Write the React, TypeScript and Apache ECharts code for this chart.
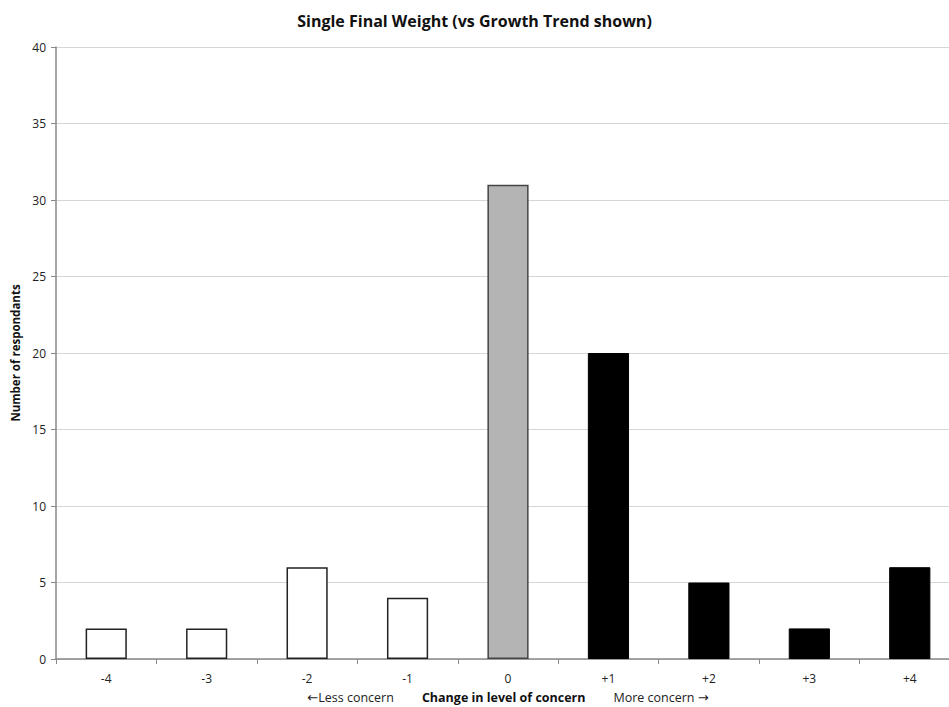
import React, { useEffect, useRef } from "react";
import * as echarts from "echarts";

const categories = ["-4", "-3", "-2", "-1", "0", "+1", "+2", "+3", "+4"];
const respondents = [2, 2, 6, 4, 31, 20, 5, 2, 6];
const yTicks = { min: 0, max: 40, interval: 5 };

const FONT = "'Open Sans', 'Noto Sans', sans-serif";
const ARROW_FONT = "'DejaVu Sans', sans-serif";

function barStyle(cat: string) {
  const v = Number(cat);
  if (v < 0) return { color: "#ffffff", borderColor: "#222", borderWidth: 1.5 };
  if (v === 0) return { color: "#b4b4b4", borderColor: "#444", borderWidth: 1.5 };
  return { color: "#000000", borderColor: "#000", borderWidth: 1 };
}

export default function App() {
  const ref = useRef<HTMLDivElement>(null);
  useEffect(() => {
    if (!ref.current) return;
    const chart = echarts.init(ref.current, undefined, { renderer: "svg" });
    chart.setOption({
      animation: false,
      backgroundColor: "#ffffff",
      textStyle: { fontFamily: FONT },
      title: {
        text: "Single Final Weight (vs Growth Trend shown)",
        left: "center",
        top: 8,
        textStyle: { fontFamily: FONT, fontSize: 16, fontWeight: "bold", color: "#111" },
      },
      grid: {
        left: 56,
        right: -11,
        top: 47,
        bottom: 48,
        containLabel: false,
        outerBoundsMode: "none",
      },
      xAxis: {
        type: "category",
        data: categories,
        boundaryGap: true,
        axisLine: { lineStyle: { color: "#888", width: 1.5 } },
        axisTick: { show: true, length: 5, inside: false, lineStyle: { color: "#888" } },
        axisLabel: { color: "#222", fontSize: 12, margin: 13, fontFamily: FONT },
        name:
          "{arr|←}{a|Less concern}{gap|}{b|Change in level of concern}{gap|}{a|More concern }{arr|→}",
        nameLocation: "middle",
        nameGap: 32,
        nameTextStyle: {
          rich: {
            a: { fontSize: 12.5, color: "#222", fontFamily: FONT },
            arr: { fontSize: 13, color: "#222", fontFamily: ARROW_FONT },
            b: { fontSize: 12.5, color: "#111", fontWeight: "bold", fontFamily: FONT },
            gap: { width: 28 },
          },
        },
      },
      yAxis: {
        type: "value",
        min: yTicks.min,
        max: yTicks.max,
        interval: yTicks.interval,
        axisLine: { show: true, lineStyle: { color: "#888", width: 1.5 } },
        axisTick: { show: true, length: 5, lineStyle: { color: "#888" } },
        axisLabel: { color: "#222", fontSize: 12, margin: 10, fontFamily: FONT },
        splitLine: { show: true, lineStyle: { color: "#d6d6d6", width: 1 } },
        name: "Number of respondants",
        nameLocation: "middle",
        nameGap: 34,
        nameRotate: 90,
        nameTextStyle: { fontSize: 11.5, fontWeight: "bold", color: "#111", fontFamily: FONT },
      },
      series: [
        {
          type: "bar",
          barWidth: "41%",
          data: respondents.map((v, i) => ({ value: v, itemStyle: barStyle(categories[i]) })),
        },
      ],
    });
    return () => chart.dispose();
  }, []);
  return (
    <div
      ref={ref}
      style={{ position: "fixed", left: 0, top: 0, width: 949, height: 707 }}
    />
  );
}
